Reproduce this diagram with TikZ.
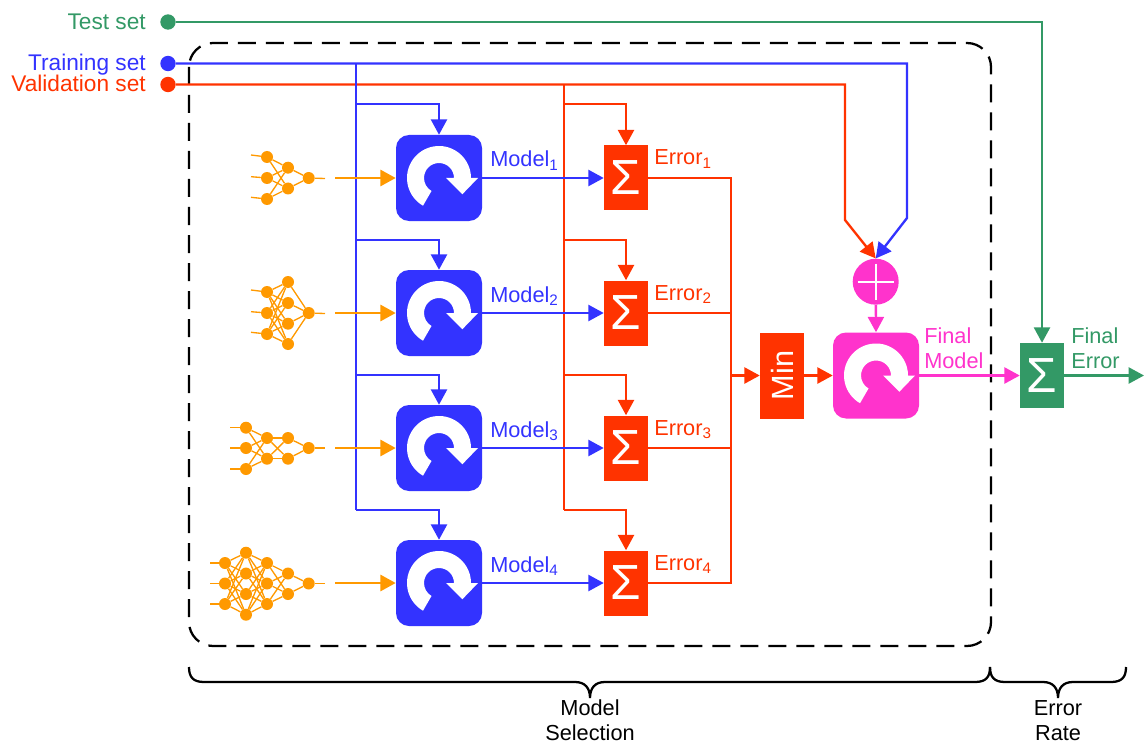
\documentclass[tikz,border=0pt]{standalone}
\usepackage{fontspec}
\setmainfont{Liberation Sans}
\usepackage{tikz}
\usetikzlibrary{arrows.meta, calc}

\definecolor{setblue}{HTML}{3333FF}
\definecolor{setred}{HTML}{FF3300}
\definecolor{setgreen}{HTML}{339966}
\definecolor{setpink}{HTML}{FF33CC}
\definecolor{netorange}{HTML}{FF9900}

\tikzset{
	lbl/.style={font=\fontsize{16.3}{18.75}\selectfont, inner sep=0pt},
	srclbl/.style={font=\fontsize{17}{19}\selectfont, inner sep=0pt},
	wire/.style={line width=1.75pt},
	tip/.style={-{Triangle[length=11.5pt, width=12pt]}},
	block/.style={rounded corners=9.75pt, minimum width=64.5pt, minimum height=64.5pt, inner sep=0pt},
	sumbox/.style={text=white, font=\fontsize{37}{37}\selectfont, minimum width=33pt, minimum height=48.75pt, inner sep=0pt},
	neuron/.style={circle, fill=netorange, minimum size=9pt, inner sep=0pt},
	nnwire/.style={netorange, line width=1pt},
	dot/.style={circle, minimum size=11.5pt, inner sep=0pt},
	pics/refresh/.style={code={
		\fill[white] (120:32) arc (120:360:32) -- (39,0) -- (23.3,16.3) -- (7,0) -- (15,0) arc (360:120:15) -- cycle;
	}},
}

% one layer of a net: net, layer, x, list of y
\newcommand{\nnlayer}[4]{
	\foreach \ny [count=\nk] in {#4} {
		\node[neuron] (#1#2-\nk) at (#3,\ny) {};
	}
}
% all links between two layers: net, layer, size, next layer, size
\newcommand{\nnlink}[5]{
	\foreach \ni in {1,...,#3} {
		\foreach \nj in {1,...,#5} {
			\draw[nnwire] (#1#2-\ni) -- (#1#4-\nj);
		}
	}
}
% brace under the picture: left x, middle x, right x
\newcommand{\setbrace}[3]{
	\draw[line width=1.7pt] (#1,667) .. controls (#1,677) and (#1+4,682) .. (#1+15,682)
		-- (#2-15,682) .. controls (#2-5,682) and (#2,688) .. (#2,698)
		.. controls (#2,688) and (#2+5,682) .. (#2+15,682)
		-- (#3-15,682) .. controls (#3-4,682) and (#3,677) .. (#3,667);
}

\begin{document}
\begin{tikzpicture}[x=0.75pt, y=-0.75pt]

	\useasboundingbox (0,0) rectangle (1144,745);

	\draw[line width=1.7pt, dash pattern=on 13.5pt off 7.5pt, rounded corners=18pt] (189,43) rectangle (991,646);

	% sources
	\node[dot, fill=setgreen] (testset) at (168,22) {};
	\node[dot, fill=setblue] (trainset) at (168,63.5) {};
	\node[dot, fill=setred] (valset) at (168,84.5) {};
	\node[srclbl, anchor=base east, text=setgreen] (testlbl) at (146,30) {Test set};
	\node[srclbl, anchor=base east, text=setblue] (trainlbl) at (146,70.5) {Training set};
	\node[srclbl, anchor=base east, text=setred] (vallbl) at (146,92) {Validation set};

	% the blocks
	\foreach \name/\k/\y/\tap in {A/1/178/104, B/2/313/240, C/3/448/375, D/4/583/510} {
		\node[block, fill=setblue] (model\name) at (439,\y) {};
		\pic at (model\name.center) {refresh};
		\node[sumbox, fill=setred] (err\name) at (626,\y) {Σ};
		\node[lbl, anchor=base west, text=setblue] (modellbl\name) at (490,\y-11) {Model\textsubscript{\k}};
		\node[lbl, anchor=base west, text=setred] (errlbl\name) at (654,\y-13) {Error\textsubscript{\k}};
		\coordinate (btap\name) at (356,\tap);
		\coordinate (rtap\name) at (564,\tap);
		\coordinate (netout\name) at (335,\y);
	}

	\node[sumbox, fill=setred, minimum height=64.5pt] (minbox) at (782,375.5) {};
	\node[lbl, text=white, rotate=90, font=\fontsize{23}{23}\selectfont] (minlbl) at (minbox) {Min};
	\node[block, fill=setpink] (finalmodel) at (876,375.5) {};
	\pic at (finalmodel.center) {refresh};
	\node[circle, fill=setpink, minimum size=34.5pt, inner sep=0pt] (adder) at (875.7,281.7) {};
	\draw[white, line width=1.3pt] ($ (adder)+(-18,0) $) -- ($ (adder)+(18,0) $);
	\draw[white, line width=1.3pt] ($ (adder)+(0,-18) $) -- ($ (adder)+(0,18) $);
	\node[sumbox, fill=setgreen] (finalsum) at (1042,375.5) {Σ};

	\node[lbl, anchor=base west, text=setpink] (finallbl) at (924,343) {Final};
	\node[lbl, anchor=base west, text=setpink] (finallblb) at (924,368) {Model};
	\node[lbl, anchor=base west, text=setgreen] (ferrlbl) at (1071,343) {Final};
	\node[lbl, anchor=base west, text=setgreen] (ferrlblb) at (1071,368) {Error};

	% red wires
	\coordinate (collect) at (731,375.5);
	\coordinate (redknee) at (845,220);
	\draw[wire, setred] (valset -| rtapD) -- (rtapD);
	\foreach \name in {A,B,C,D} {
		\draw[wire, setred, tip] (rtap\name) -| (err\name.north);
	}
	\draw[wire, setred, tip] (valset) -| (redknee) -- (adder.north);
	\draw[wire, setred] (errA.east) -| (collect) |- (errD.east);
	\draw[wire, setred] (errB.east) -- (errB.east -| collect);
	\draw[wire, setred] (errC.east) -- (errC.east -| collect);
	\draw[wire, setred, tip] (collect) -- (minbox.west);
	\draw[wire, setred, tip] (minbox.east) -- (finalmodel.west);

	% blue wires
	\coordinate (blueknee) at (907,218);
	\draw[wire, setblue] (trainset -| btapD) -- (btapD);
	\foreach \name in {A,B,C,D} {
		\draw[wire, setblue, tip] (btap\name) -| (model\name.north);
		\draw[wire, setblue, tip] (model\name) -- (err\name);
	}
	\draw[wire, setblue, tip] (trainset) -| (blueknee) -- (adder.north);

	% green and pink wires
	\coordinate (outend) at (1144,375.5);
	\draw[wire, setgreen, tip] (testset) -| (finalsum.north);
	\draw[wire, setgreen, tip] (finalsum) -- (outend);
	\draw[wire, setpink, tip] (adder) -- (finalmodel.north);
	\draw[wire, setpink, tip] (finalmodel) -- (finalsum);

	% the nets
	\nnlayer{a}{1}{267}{157,178,199}
	\nnlayer{a}{2}{288}{167.7,188.5}
	\nnlayer{a}{3}{308.7}{178}
	\nnlink{a}{1}{3}{2}{2}
	\nnlink{a}{2}{2}{3}{1}

	\nnlayer{b}{1}{267}{292,313,334}
	\nnlayer{b}{2}{288}{282,303,323.7,344}
	\nnlayer{b}{3}{308.7}{313}
	\nnlink{b}{1}{3}{2}{4}
	\nnlink{b}{2}{4}{3}{1}

	\nnlayer{c}{1}{246}{427.7,448,469}
	\nnlayer{c}{2}{267}{438,458.7}
	\nnlayer{c}{3}{288}{438,458.7}
	\nnlayer{c}{4}{308.7}{448}
	\nnlink{c}{1}{3}{2}{2}
	\nnlink{c}{2}{2}{3}{2}
	\nnlink{c}{3}{2}{4}{1}

	\nnlayer{d}{1}{225}{563,583.5,604}
	\nnlayer{d}{2}{246}{552.7,573.5,594,614.7}
	\nnlayer{d}{3}{267}{563,583.5,604}
	\nnlayer{d}{4}{288}{573.5,594}
	\nnlayer{d}{5}{308.7}{583.5}
	\nnlink{d}{1}{3}{2}{4}
	\nnlink{d}{2}{4}{3}{3}
	\nnlink{d}{3}{3}{4}{2}
	\nnlink{d}{4}{2}{5}{1}

	% stubs in and out of the nets
	\foreach \i/\y in {1/155, 2/176.7, 3/197.3} {
		\coordinate (ain\i) at (251,\y);
		\draw[nnwire] (ain\i) -- (a1-\i);
	}
	\foreach \i/\y in {1/290, 2/311.7, 3/332.3} {
		\coordinate (bin\i) at (251,\y);
		\draw[nnwire] (bin\i) -- (b1-\i);
	}
	\foreach \i/\y in {1/427.7, 2/448, 3/469} {
		\coordinate (cin\i) at (230,\y);
		\draw[nnwire] (cin\i) -- (c1-\i);
	}
	\foreach \i/\y in {1/563, 2/583.5, 3/604} {
		\coordinate (din\i) at (210,\y);
		\draw[nnwire] (din\i) -- (d1-\i);
	}
	\coordinate (aout) at (325,178.5);
	\coordinate (bout) at (325,313.5);
	\coordinate (cout) at (325,448);
	\coordinate (dout) at (325,583.5);
	\draw[nnwire] (a3-1) -- (aout);
	\draw[nnwire] (b3-1) -- (bout);
	\draw[nnwire] (c4-1) -- (cout);
	\draw[nnwire] (d5-1) -- (dout);

	% orange arrows
	\foreach \name in {A,B,C,D} {
		\draw[netorange, line width=2.1pt, tip] (netout\name) -- (model\name.west);
	}

	% braces
	\setbrace{189}{590}{990}
	\setbrace{990}{1058}{1126}
	\node[lbl] (mslblA) at (590,708) {Model};
	\node[lbl] (mslblB) at (590,733) {Selection};
	\node[lbl] (erlblA) at (1058,708) {Error};
	\node[lbl] (erlblB) at (1058,733) {Rate};

\end{tikzpicture}
\end{document}
